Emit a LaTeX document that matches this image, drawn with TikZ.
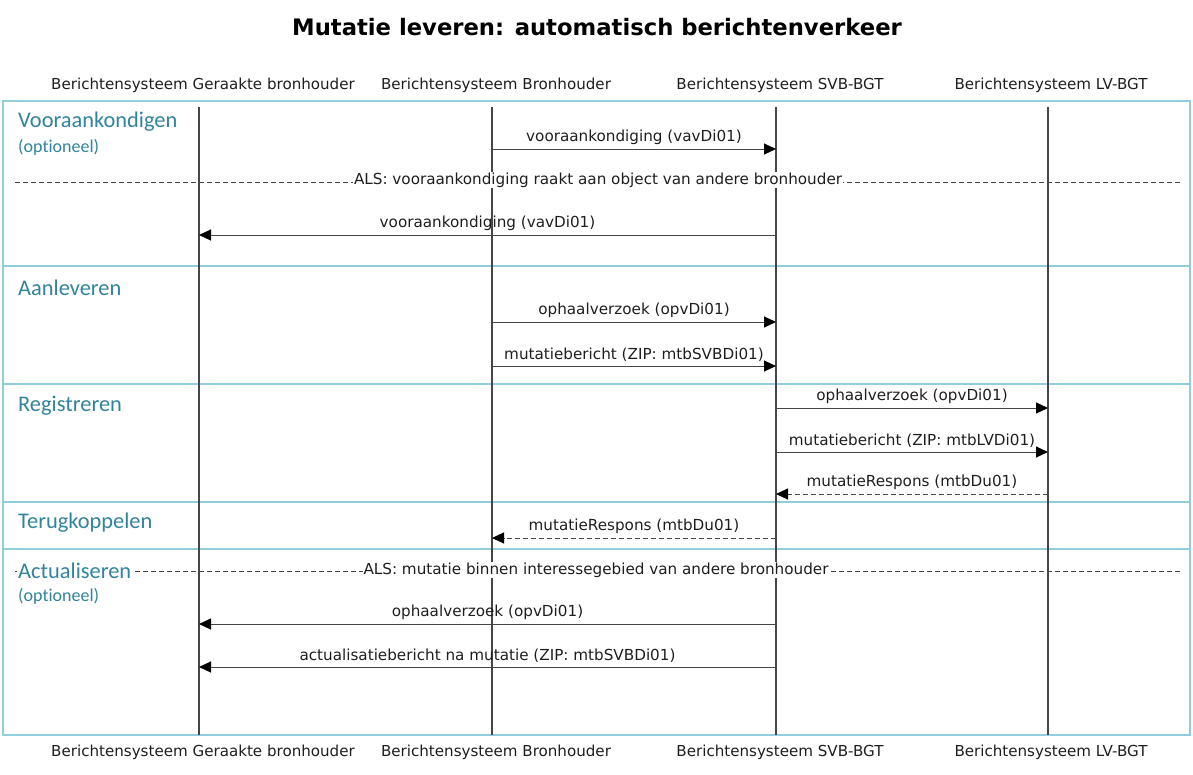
\documentclass[tikz,border=0pt]{standalone}
\usepackage{fontspec}
\setmainfont{DejaVu Sans}
\newfontfamily\secfont[Ligatures=NoCommon]{Carlito}
\usetikzlibrary{arrows.meta}
\definecolor{boxblue}{RGB}{146,205,220}
\definecolor{secteal}{RGB}{49,132,155}
\definecolor{lineg}{RGB}{70,70,70}
\definecolor{txtg}{RGB}{30,30,30}
\begin{document}
\begin{tikzpicture}[x=1pt,y=-1pt,
  lifeline/.style={draw=lineg, line width=1.3pt},
  msg/.style={draw=lineg, line width=1pt, -{Triangle[length=12pt,width=11pt,color=black]}},
  reply/.style={msg, dash pattern=on 5pt off 3pt},
  msglabel/.style={font=\fontsize{15.2}{17}\selectfont, text=txtg, inner sep=1pt, above=3pt},
  alsline/.style={draw=lineg, line width=1pt, dash pattern=on 5pt off 3pt},
  alslabel/.style={fill=white, font=\fontsize{15.2}{17}\selectfont, text=txtg, inner sep=1pt},
  header/.style={font=\fontsize{15.1}{17}\selectfont, text=txtg, inner sep=0pt},
  secbig/.style={font=\secfont\fontsize{22.4}{24}\selectfont, text=secteal, anchor=west, inner sep=0pt},
  secsmall/.style={font=\secfont\fontsize{18}{20}\selectfont, text=secteal, anchor=west, inner sep=0pt},
  boxline/.style={draw=boxblue, line width=2pt}
]
\useasboundingbox (0,0) rectangle (1193,774);
% title
\node[font=\bfseries\fontsize{22.7}{25}\selectfont, text=black] (title) at (597,27) {Mutatie leveren: automatisch berichtenverkeer};
% headers
\node[header] (hG) at (203,85) {Berichtensysteem Geraakte bronhouder};
\node[header] (hB) at (496,85) {Berichtensysteem Bronhouder};
\node[header] (hS) at (780,85) {Berichtensysteem SVB-BGT};
\node[header] (hL) at (1051,85) {Berichtensysteem LV-BGT};
\node[header] (fG) at (203,752) {Berichtensysteem Geraakte bronhouder};
\node[header] (fB) at (496,752) {Berichtensysteem Bronhouder};
\node[header] (fS) at (780,752) {Berichtensysteem SVB-BGT};
\node[header] (fL) at (1051,752) {Berichtensysteem LV-BGT};
% frame and separators
\draw[boxline] (3,101) rectangle (1190,735);
\draw[boxline] (3,266) -- (1190,266);
\draw[boxline] (3,384) -- (1190,384);
\draw[boxline] (3,502) -- (1190,502);
\draw[boxline] (3,549) -- (1190,549);
% lifelines
\coordinate (Gt) at (199,107); \coordinate (Gb) at (199,735);
\coordinate (Bt) at (492,107); \coordinate (Bb) at (492,735);
\coordinate (St) at (776,107); \coordinate (Sb) at (776,735);
\coordinate (Lt) at (1048,107); \coordinate (Lb) at (1048,735);
\draw[lifeline] (Gt) -- (Gb);
\draw[lifeline] (Bt) -- (Bb);
\draw[lifeline] (St) -- (Sb);
\draw[lifeline] (Lt) -- (Lb);
% ALS lines
\coordinate (a1s) at (15,182); \coordinate (a1e) at (1180,182);
\coordinate (a2s) at (15,571); \coordinate (a2e) at (1180,571);
\draw[alsline] (a1s) -- (a1e);
\draw[alsline] (a2s) -- (a2e);
\node[alslabel] (als1) at (598,180) {ALS: vooraankondiging raakt aan object van andere bronhouder};
\node[alslabel] (als2) at (596,570) {ALS: mutatie binnen interessegebied van andere bronhouder};
% section labels
\node[secbig] (s1) at (18,122) {Vooraankondigen};
\node[secsmall] (s1o) at (18,147) {(optioneel)};
\node[secbig] (s2) at (18,288) {Aanleveren};
\node[secbig] (s3) at (18,406) {Registreren};
\node[secbig] (s4) at (18,523) {Terugkoppelen};
\node[secbig, fill=white, inner sep=1pt] (s5) at (17,571) {Actualiseren};
\node[secsmall] (s5o) at (18,596) {(optioneel)};
% message endpoints
\coordinate (B1) at (492,149); \coordinate (S1) at (776,149);
\coordinate (S2) at (776,235); \coordinate (G2) at (199,235);
\coordinate (B3) at (492,322); \coordinate (S3) at (776,322);
\coordinate (B4) at (492,366); \coordinate (S4) at (776,366);
\coordinate (S5) at (776,408); \coordinate (L5) at (1048,408);
\coordinate (S6) at (776,452); \coordinate (L6) at (1048,452);
\coordinate (L7) at (1048,494); \coordinate (S7) at (776,494);
\coordinate (S8) at (776,538); \coordinate (B8) at (492,538);
\coordinate (S9) at (776,624); \coordinate (G9) at (199,624);
\coordinate (S10) at (776,667); \coordinate (G10) at (199,667);
% messages
\draw[msg] (B1) -- node[msglabel] {vooraankondiging (vavDi01)} (S1);
\draw[msg] (S2) -- node[msglabel] {vooraankondiging (vavDi01)} (G2);
\draw[msg] (B3) -- node[msglabel] {ophaalverzoek (opvDi01)} (S3);
\draw[msg] (B4) -- node[msglabel] {mutatiebericht (ZIP: mtbSVBDi01)} (S4);
\draw[msg] (S5) -- node[msglabel] {ophaalverzoek (opvDi01)} (L5);
\draw[msg] (S6) -- node[msglabel] {mutatiebericht (ZIP: mtbLVDi01)} (L6);
\draw[reply] (L7) -- node[msglabel] {mutatieRespons (mtbDu01)} (S7);
\draw[reply] (S8) -- node[msglabel] {mutatieRespons (mtbDu01)} (B8);
\draw[msg] (S9) -- node[msglabel] {ophaalverzoek (opvDi01)} (G9);
\draw[msg] (S10) -- node[msglabel] {actualisatiebericht na mutatie (ZIP: mtbSVBDi01)} (G10);
\end{tikzpicture}
\end{document}
